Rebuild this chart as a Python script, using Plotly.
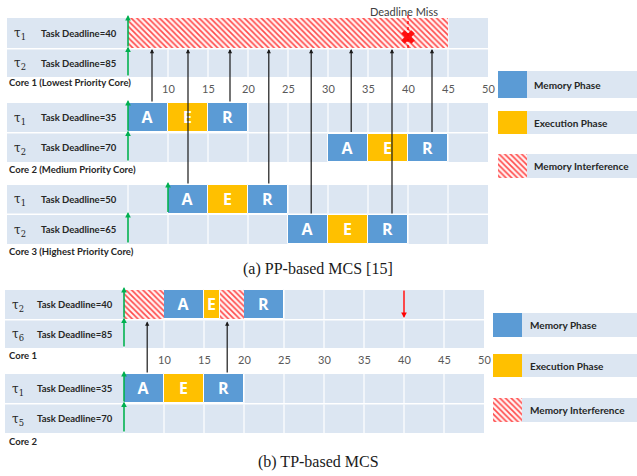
import plotly.graph_objects as go

# ---------------- data ----------------
TICKS = [10, 15, 20, 25, 30, 35, 40, 45, 50]

# (a) PP-based MCS: one entry per phase segment
PP_ROW = ["a1t1", "a2t1", "a2t1", "a2t1", "a2t2", "a2t2", "a2t2",
          "a3t1", "a3t1", "a3t1", "a3t2", "a3t2", "a3t2"]
PP_PHASE = ["I", "A", "E", "R", "A", "E", "R", "A", "E", "R", "A", "E", "R"]
PP_START = [5, 5, 10, 15, 30, 35, 40, 10, 15, 20, 25, 30, 35]
PP_END = [45, 10, 15, 20, 35, 40, 45, 15, 20, 25, 30, 35, 40]

PP_TASK_ROWS = ["a1t1", "a1t2", "a2t1", "a2t2", "a3t1", "a3t2"]
PP_TASK_SYM = ["1", "2", "1", "2", "1", "2"]
PP_DEADLINE = [40, 85, 35, 70, 50, 65]
PP_RELEASE = [5, 5, 5, 5, 10, 5]

# memory requests reaching the lowest priority core
PP_REQ_ROW = ["a2t1", "a3t1", "a2t1", "a3t1", "a3t2", "a2t2", "a3t2", "a2t2"]
PP_REQ_TIME = [8, 12.5, 17.75, 22.6, 27.9, 32.9, 38, 43]
PP_MISS_ROW = "a1t1"
PP_MISS_TIME = 40

# (b) TP-based MCS
TP_ROW = ["b1t1", "b1t1", "b1t1", "b1t1", "b1t1", "b2t1", "b2t1", "b2t1"]
TP_PHASE = ["I", "A", "E", "I", "R", "A", "E", "R"]
TP_START = [5, 10, 15, 17, 20, 5, 10, 15]
TP_END = [10, 15, 17, 20, 25, 10, 15, 20]

TP_TASK_ROWS = ["b1t1", "b1t2", "b2t1", "b2t2"]
TP_TASK_SYM = ["2", "6", "1", "5"]
TP_DEADLINE = [40, 85, 35, 70]
TP_RELEASE = [5, 5, 5, 5]

TP_REQ_ROW = ["b2t1", "b2t1"]
TP_REQ_TIME = [7.9, 17.9]
TP_DL_ROW = "b1t1"
TP_DL_TIME = 40

# ---------------- layout geometry ----------------
W, H = 637, 476
PX_PER_UNIT = 8.0
T0_A = -11.0      # time at the left page edge, part (a)
T0_B = -10.5      # time at the left page edge, part (b)

# row top / bottom in page pixels (y axis runs top-down in pixels)
ROWS = {
    "a1t1": (18, 48), "a1t2": (49.5, 77),
    "a2t1": (103, 132), "a2t2": (133.5, 162),
    "a3t1": (185, 213.5), "a3t2": (215, 244),
    "b1t1": (290, 319), "b1t2": (320.5, 348),
    "b2t1": (374, 403), "b2t2": (404.5, 433),
}
CORES_A = [("Core 1 (Lowest Priority Core)", 82, ["a1t1", "a1t2"]),
           ("Core 2 (Medium Priority Core)", 169, ["a2t1", "a2t2"]),
           ("Core 3 (Highest Priority Core)", 251, ["a3t1", "a3t2"])]
CORES_B = [("Core 1", 355, ["b1t1", "b1t2"]),
           ("Core 2", 441, ["b2t1", "b2t2"])]

BAND = "#dce6f2"
BLUE = "#5b9bd5"
GOLD = "#ffc000"
HATCH = "#ff4a4a"
GREEN = "#00b050"
TXT = "#262626"
LBL_FONT = "Lato"
HATCH_PATTERN = dict(shape="\\", fgcolor=HATCH, bgcolor="#fff4f4",
                     size=4, solidity=0.4, fillmode="replace")


def px_to_t(p, t0):
    return t0 + p / PX_PER_UNIT


def center(r):
    return (ROWS[r][0] + ROWS[r][1]) / 2


def height(r):
    return ROWS[r][1] - ROWS[r][0]


fig = go.Figure()
shapes = []
annotations = []


def add_rows(rows, xref, t0, left_px):
    for r in rows:
        y0, y1 = ROWS[r]
        shapes.append(dict(type="rect", xref=xref, yref="y", layer="below",
                           x0=px_to_t(left_px, t0), x1=50, y0=y0, y1=y1,
                           fillcolor=BAND, line=dict(width=0)))
        for t in range(5, 50, 5):
            shapes.append(dict(type="line", xref=xref, yref="y", layer="below",
                               x0=t, x1=t, y0=y0, y1=y1,
                               line=dict(color="white", width=1.2)))


add_rows(["a1t1", "a1t2", "a2t1", "a2t2", "a3t1", "a3t2"], "x", T0_A, 7)
add_rows(["b1t1", "b1t2", "b2t1", "b2t2"], "x2", T0_B, 5)


def add_phases(rows, phases, starts, ends, xaxis):
    for ph, color in (("A", BLUE), ("E", GOLD), ("R", BLUE), ("I", None)):
        idx = [i for i, p in enumerate(phases) if p == ph]
        if not idx:
            continue
        ys = [center(rows[i]) for i in idx]
        ws = [height(rows[i]) for i in idx]
        base = [starts[i] for i in idx]
        dur = [ends[i] - starts[i] for i in idx]
        if ph == "I":
            marker = dict(color="white", pattern=HATCH_PATTERN,
                          line=dict(color="white", width=0))
            text = None
        else:
            marker = dict(color=color, line=dict(color="white", width=1))
            text = [ph] * len(idx)
        fig.add_trace(go.Bar(
            orientation="h", y=ys, x=dur, base=base, width=ws,
            marker=marker, text=text, textposition="inside",
            insidetextanchor="middle", constraintext="none", textangle=0,
            textfont=dict(color="white", size=16, family="Open Sans", weight="bold"),
            xaxis=xaxis, yaxis="y", showlegend=False, hoverinfo="skip"))


add_phases(PP_ROW, PP_PHASE, PP_START, PP_END, "x")
add_phases(TP_ROW, TP_PHASE, TP_START, TP_END, "x2")


def add_labels(rows, syms, deadlines, sym_px, text_px):
    for r, s, d in zip(rows, syms, deadlines):
        annotations.append(dict(xref="paper", yref="y", x=sym_px / W, y=center(r) + 1,
                                text="τ<sub>%s</sub>" % s, showarrow=False,
                                xanchor="left", yanchor="middle",
                                font=dict(family="DejaVu Serif", size=12, color=TXT)))
        annotations.append(dict(xref="paper", yref="y", x=text_px / W, y=center(r),
                                text="<b>Task Deadline=%d</b>" % d, showarrow=False,
                                xanchor="left", yanchor="middle",
                                font=dict(family=LBL_FONT, size=9.5, color=TXT)))


add_labels(PP_TASK_ROWS, PP_TASK_SYM, PP_DEADLINE, 12, 39)
add_labels(TP_TASK_ROWS, TP_TASK_SYM, TP_DEADLINE, 10, 35)

for name, ypx, _ in CORES_A + CORES_B:
    annotations.append(dict(xref="paper", yref="y", x=7 / W, y=ypx,
                            text="<b>%s</b>" % name, showarrow=False,
                            xanchor="left", yanchor="middle",
                            font=dict(family=LBL_FONT, size=9.5, color=TXT)))

# time tick labels
for xref, ypx in (("x", 88), ("x2", 359)):
    for t in TICKS:
        annotations.append(dict(xref=xref, yref="y", x=t, y=ypx, text=str(t),
                                showarrow=False, xanchor="center", yanchor="middle",
                                font=dict(family=LBL_FONT, size=11, color="#595959")))


# release arrows (green)
def add_release(rows, times, xref):
    for r, t in zip(rows, times):
        y0, y1 = ROWS[r]
        annotations.append(dict(xref=xref, yref="y", axref=xref, ayref="y",
                                x=t, y=y0 - 3, ax=t, ay=y1, text="",
                                showarrow=True, arrowhead=2, arrowsize=0.7,
                                arrowwidth=1.6, arrowcolor=GREEN, standoff=0))


add_release(PP_TASK_ROWS, PP_RELEASE, "x")
add_release(TP_TASK_ROWS, TP_RELEASE, "x2")


# memory request arrows (black) from a source row to the interfered task row
def add_requests(rows, times, target_bottom, xref):
    for r, t in zip(rows, times):
        annotations.append(dict(xref=xref, yref="y", axref=xref, ayref="y",
                                x=t, y=target_bottom, ax=t, ay=ROWS[r][0], text="",
                                showarrow=True, arrowhead=2, arrowsize=0.7,
                                arrowwidth=1.2, arrowcolor="#1a1a1a", standoff=0))


add_requests(PP_REQ_ROW, PP_REQ_TIME, ROWS["a1t1"][1] + 1, "x")
add_requests(TP_REQ_ROW, TP_REQ_TIME, ROWS["b1t2"][0] + 1, "x2")

# deadline miss in (a)
y0, y1 = ROWS[PP_MISS_ROW]
shapes.append(dict(type="line", xref="x", yref="y", x0=PP_MISS_TIME, x1=PP_MISS_TIME,
                   y0=y0 - 3, y1=y1 + 2, line=dict(color="#ff0000", width=1.3, dash="dot")))
fig.add_trace(go.Scatter(x=[PP_MISS_TIME], y=[center(PP_MISS_ROW) + 4], mode="markers",
                         marker=dict(symbol="x", size=12, color="#ff1010",
                                     line=dict(width=0)),
                         xaxis="x", yaxis="y", showlegend=False, hoverinfo="skip"))
annotations.append(dict(xref="x", yref="y", x=PP_MISS_TIME - 0.5, y=y0 - 7,
                        text="Deadline Miss", showarrow=False,
                        xanchor="center", yanchor="middle",
                        font=dict(family=LBL_FONT, size=11, color="#404040")))

# deadline marker in (b)
annotations.append(dict(xref="x2", yref="y", axref="x2", ayref="y",
                        x=TP_DL_TIME, y=ROWS[TP_DL_ROW][1] - 1,
                        ax=TP_DL_TIME, ay=ROWS[TP_DL_ROW][0] - 1, text="",
                        showarrow=True, arrowhead=2, arrowsize=0.8, arrowwidth=1.4,
                        arrowcolor="#ff0000", standoff=0))


# legends
def add_legend(sq_x0, sq_x1, text_x, items):
    for label, y0, y1, kind in items:
        shapes.append(dict(type="rect", xref="paper", yref="y", layer="below",
                           x0=sq_x1 / W, x1=1, y0=y0, y1=y1,
                           fillcolor=BAND, line=dict(width=0)))
        if kind == "I":
            fig.add_trace(go.Bar(
                orientation="h", y=[(y0 + y1) / 2], width=[y1 - y0],
                base=[px_to_t(sq_x0, T0_A)], x=[(sq_x1 - sq_x0) / PX_PER_UNIT],
                marker=dict(color="white", pattern=HATCH_PATTERN, line=dict(width=0)),
                xaxis="x", yaxis="y", showlegend=False, hoverinfo="skip"))
        else:
            shapes.append(dict(type="rect", xref="paper", yref="y",
                               x0=sq_x0 / W, x1=sq_x1 / W, y0=y0, y1=y1,
                               fillcolor=BLUE if kind == "A" else GOLD,
                               line=dict(width=0)))
        annotations.append(dict(xref="paper", yref="y", x=text_x / W, y=(y0 + y1) / 2,
                                text="<b>%s</b>" % label, showarrow=False,
                                xanchor="left", yanchor="middle",
                                font=dict(family=LBL_FONT, size=10, color=TXT)))


add_legend(498, 527, 532, [("Memory Phase", 71, 98, "A"),
                           ("Execution Phase", 111, 134, "E"),
                           ("Memory Interference", 154, 178, "I")])
add_legend(493, 522, 528, [("Memory Phase", 313, 337, "A"),
                           ("Execution Phase", 354, 377, "E"),
                           ("Memory Interference", 398, 422, "I")])

# captions
annotations.append(dict(xref="paper", yref="y", x=318 / W, y=269,
                        text="(a) PP-based MCS [15]", showarrow=False,
                        xanchor="center", yanchor="middle",
                        font=dict(family="Liberation Serif", size=16, color="#1a1a1a")))
annotations.append(dict(xref="paper", yref="y", x=318 / W, y=462,
                        text="(b) TP-based MCS", showarrow=False,
                        xanchor="center", yanchor="middle",
                        font=dict(family="Liberation Serif", size=16, color="#1a1a1a")))

fig.update_layout(
    width=W, height=H, margin=dict(l=0, r=0, t=0, b=0),
    paper_bgcolor="white", plot_bgcolor="white",
    barmode="overlay", bargap=0, showlegend=False,
    xaxis=dict(range=[T0_A, T0_A + W / PX_PER_UNIT], visible=False, fixedrange=True),
    xaxis2=dict(range=[T0_B, T0_B + W / PX_PER_UNIT], visible=False,
                overlaying="x", fixedrange=True),
    yaxis=dict(range=[H, 0], visible=False, fixedrange=True),
    shapes=shapes, annotations=annotations,
)

fig.write_html("out.html")
